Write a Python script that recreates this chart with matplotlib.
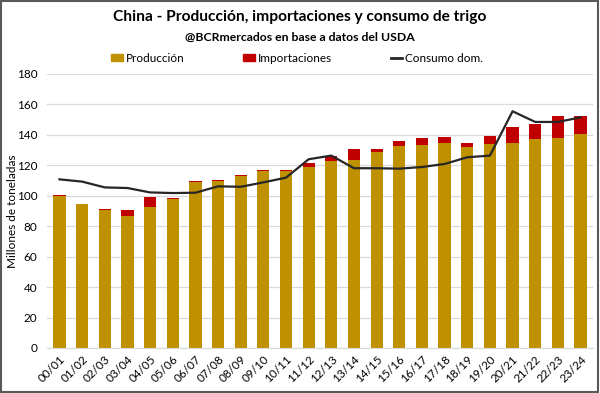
import matplotlib
matplotlib.use("Agg")
import matplotlib.pyplot as plt
from matplotlib.patches import Rectangle, Patch
from matplotlib.lines import Line2D
import numpy as np

campaigns = ["00/01", "01/02", "02/03", "03/04", "04/05", "05/06", "06/07", "07/08",
             "08/09", "09/10", "10/11", "11/12", "12/13", "13/14", "14/15", "15/16",
             "16/17", "17/18", "18/19", "19/20", "20/21", "21/22", "22/23", "23/24"]
produccion = [99.8, 94.3, 90.5, 86.6, 92.3, 98.0, 109.0, 109.7, 113.2, 116.1, 116.5, 118.9,
              122.9, 123.8, 128.9, 133.0, 133.5, 134.6, 131.9, 134.1, 134.8, 137.2, 137.9, 140.5]
importaciones = [0.4, 0.6, 0.5, 3.9, 6.8, 0.7, 0.5, 0.4, 0.5, 1.1, 0.7, 2.9,
                 3.1, 6.8, 1.7, 3.3, 4.4, 3.7, 3.1, 5.1, 10.4, 9.7, 14.5, 12.1]
consumo = [110.8, 109.3, 105.5, 105.1, 102.2, 101.8, 102.0, 106.2, 105.9, 108.8, 111.9, 124.0,
           126.4, 118.1, 118.1, 117.8, 118.9, 120.9, 125.3, 126.4, 155.5, 148.5, 148.5, 151.5]
yticks = [0, 20, 40, 60, 80, 100, 120, 140, 160, 180]

C_PROD = "#BF9000"
C_IMP = "#C00000"
C_LINE = "#262626"

plt.rcParams['font.family'] = ['Lato', 'DejaVu Sans']

fig = plt.figure(figsize=(6.0, 3.93), dpi=100)
W, H = 600, 393
ax = fig.add_axes([47 / W, 1 - 348 / H, (593 - 47) / W, (348 - 74) / H])

x = np.arange(len(campaigns))
ax.bar(x, produccion, width=0.54, color=C_PROD, zorder=2)
ax.bar(x, importaciones, width=0.54, bottom=produccion, color=C_IMP, zorder=2)
ax.plot(x, consumo, color=C_LINE, lw=1.6, zorder=3)

ax.set_ylim(0, 180)
ax.set_xlim(-0.55, len(campaigns) - 0.45)
ax.set_yticks(yticks)
ax.set_yticklabels([str(v) for v in yticks], fontsize=8.5)
ax.set_xticks(x)
ax.set_xticklabels(campaigns, rotation=45, ha='right', rotation_mode='anchor', fontsize=8.5)
ax.tick_params(axis='both', length=0, pad=4)
ax.tick_params(axis='y', pad=7)
ax.grid(axis='y', color='#D9D9D9', lw=0.9, zorder=0)
ax.set_axisbelow(True)
for s in ['top', 'right', 'left']:
    ax.spines[s].set_visible(False)
ax.spines['bottom'].set_color('#D9D9D9')
ax.set_ylabel("Millones de toneladas", fontsize=8.5)
ax.yaxis.set_label_coords((18 - 47) / 546, 0.5)

fig.text(0.5, 1 - 17 / H, "China - Producción, importaciones y consumo de trigo",
         ha='center', va='center', fontsize=11.2, fontweight='bold')
fig.text(0.5, 1 - 37 / H, "@BCRmercados en base a datos del USDA",
         ha='center', va='center', fontsize=8.8, fontweight='bold')

handles = [Patch(color=C_PROD), Patch(color=C_IMP), Line2D([0], [0], color=C_LINE, lw=2)]
labels = ["Producción", "Importaciones", "Consumo dom."]
fig.legend(handles, labels, loc='center', bbox_to_anchor=(0.495, 1 - 58 / H), ncol=3,
           frameon=False, fontsize=8.5, handlelength=1.0, handletextpad=0.2,
           columnspacing=5.0, handleheight=0.6)

fig.patches.append(Rectangle((0.002, 0.003), 0.995, 0.994, transform=fig.transFigure,
                             fill=False, edgecolor='#595959', lw=1.5))

fig.savefig("out.png", dpi=100)
